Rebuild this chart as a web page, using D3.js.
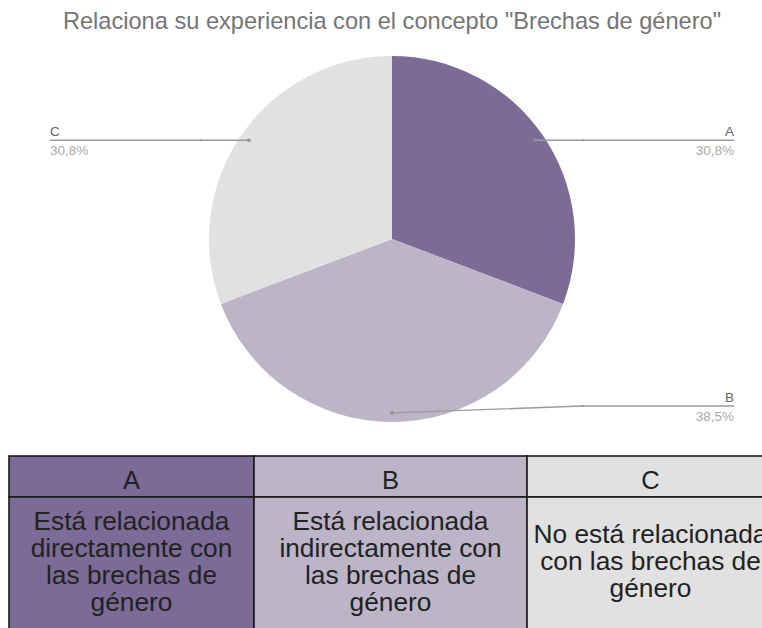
<!DOCTYPE html>
<html><head><meta charset="utf-8">
<script src="https://cdn.jsdelivr.net/npm/d3@7"></script>
<style>html,body{margin:0;padding:0;background:#fff;overflow:hidden}</style>
</head><body>
<svg id="c" width="762" height="628"></svg>
<script>
const categories = ["A", "B", "C"];
const values = [30.8, 38.5, 30.8];
const percentLabels = ["30,8%", "38,5%", "30,8%"];
const colors = ["#7b6b96", "#bcb5c8", "#e1e1e1"];
const descriptions = [
  ["Está relacionada", "directamente con", "las brechas de", "género"],
  ["Está relacionada", "indirectamente con", "las brechas de", "género"],
  ["No está relacionada", "con las brechas de", "género"]
];
const title = 'Relaciona su experiencia con el concepto "Brechas de género"';

(function () {
const FONT = "'Liberation Sans', Arial, sans-serif";
const svg = d3.select("#c");

svg.append("text")
  .attr("x", 392).attr("y", 29)
  .attr("text-anchor", "middle")
  .attr("font-family", FONT).attr("font-size", 23.6)
  .attr("fill", "#757575")
  .text(title);

const cx = 392, cy = 239, r = 183;
const pieData = d3.pie().sort(null).value(d => d)(values);
const arc = d3.arc().innerRadius(0).outerRadius(r);
const g = svg.append("g").attr("transform", `translate(${cx},${cy})`);
g.selectAll("path.slice").data(pieData).join("path")
  .attr("class", "slice")
  .attr("d", arc)
  .attr("fill", (d, i) => colors[i]);

const dotArc = d3.arc().innerRadius(r * 0.95).outerRadius(r * 0.95);
const rightEnd = 734 - cx, leftEnd = 50 - cx;
pieData.forEach((d, i) => {
  const [px, py] = dotArc.centroid(d);
  const side = px < -1 ? -1 : 1;
  const ly = Math.min(py, r - 16);
  const ex = side * (r + 8);
  const endX = side > 0 ? rightEnd : leftEnd;
  g.append("polyline")
    .attr("points", [[px, py], [ex, ly], [endX, ly]].map(p => p.join(",")).join(" "))
    .attr("fill", "none").attr("stroke", "#9a9a9a").attr("stroke-width", 1.4);
  g.append("circle").attr("cx", px).attr("cy", py).attr("r", 1.8).attr("fill", "#8f8f8f");
  g.append("circle").attr("cx", ex).attr("cy", ly).attr("r", 1).attr("fill", "#8f8f8f");
  const anchor = side > 0 ? "end" : "start";
  g.append("text").attr("x", endX).attr("y", ly - 4)
    .attr("text-anchor", anchor).attr("font-family", FONT).attr("font-size", 13.5)
    .attr("fill", "#666").text(categories[i]);
  g.append("text").attr("x", endX).attr("y", ly + 15)
    .attr("text-anchor", anchor).attr("font-family", FONT).attr("font-size", 13.5)
    .attr("fill", "#aaa").text(percentLabels[i]);
});

// table
const colEdges = [9, 254, 527, 774];
const tTop = 456, headBottom = 497, tBottom = 645;
const tbl = svg.append("g");
const cols = categories.map((c, i) => ({ c, i, x0: colEdges[i], x1: colEdges[i + 1] }));
tbl.selectAll("rect.h").data(cols).join("rect")
  .attr("x", d => d.x0).attr("y", tTop).attr("width", d => d.x1 - d.x0).attr("height", headBottom - tTop)
  .attr("fill", d => colors[d.i]).attr("stroke", "#1a1a1a").attr("stroke-width", 1.6);
tbl.selectAll("rect.b").data(cols).join("rect")
  .attr("x", d => d.x0).attr("y", headBottom).attr("width", d => d.x1 - d.x0).attr("height", tBottom - headBottom)
  .attr("fill", d => colors[d.i]).attr("stroke", "#1a1a1a").attr("stroke-width", 1.6);
tbl.selectAll("text.h").data(cols).join("text")
  .attr("x", d => (d.x0 + d.x1) / 2).attr("y", 489)
  .attr("text-anchor", "middle").attr("font-family", FONT).attr("font-size", 25.5)
  .attr("fill", "#222").text(d => d.c);
const lh = 27, mid = 570;
cols.forEach(col => {
  const lines = descriptions[col.i];
  const n = lines.length;
  tbl.append("g").selectAll("text").data(lines).join("text")
    .attr("x", (col.x0 + col.x1) / 2)
    .attr("y", (t, k) => mid + (k - (n - 1) / 2) * lh)
    .attr("text-anchor", "middle").attr("font-family", FONT).attr("font-size", 26.3)
    .attr("fill", "#222").text(t => t);
});
})();
</script>
</body></html>
